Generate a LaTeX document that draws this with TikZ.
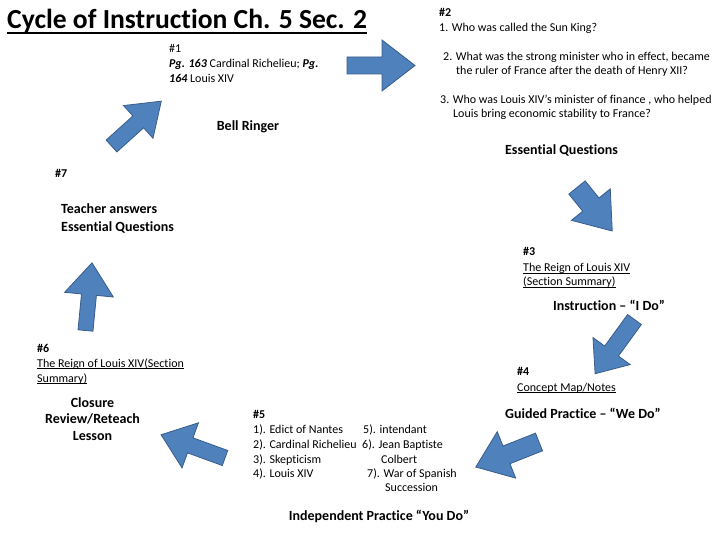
\documentclass[tikz,border=0pt]{standalone}
\usepackage{fontspec}
\setmainfont{Carlito}[Ligatures=CommonOff]
\definecolor{arrowfill}{RGB}{79,129,189}
\definecolor{arrowline}{RGB}{56,93,138}
\newcommand{\ulin}[1]{\underline{\smash{#1}}}
\tikzset{
  txt/.style={anchor=base west, inner sep=0pt, font=\fontsize{12}{14}\selectfont},
  hdr/.style={anchor=base west, inner sep=0pt, font=\fontsize{12}{14}\bfseries\selectfont},
  lbl/.style={anchor=base, inner sep=0pt, font=\fontsize{14}{16}\bfseries\selectfont},
  blockarrow/.style={fill=arrowfill, draw=arrowline, line width=0.8pt, line join=miter},
}
% x, y (tail centre), angle, length, shaft half-width, head half-width, head length
\newcommand{\fatarrow}[7]{%
  \draw[blockarrow, shift={(#1,#2)}, rotate=#3]
    (0,-#5) -- ({#4-#7},-#5) -- ({#4-#7},-#6) -- (#4,0) -- ({#4-#7},#6) -- ({#4-#7},#5) -- (0,#5) -- cycle;}
\begin{document}
\begin{tikzpicture}[x=1pt,y=-1pt]
\useasboundingbox (0,0) rectangle (720,540);

% title
\node[anchor=base west, inner sep=0pt, font=\fontsize{27.6}{34}\bfseries\selectfont] (title) at (7,29) {Cycle of Instruction Ch. 5 Sec. 2};
\draw[line width=1.8pt] ([yshift=-4pt]title.base west) -- ([yshift=-4pt]title.base east);

% #1
\node[txt] (n1) at (169,53) {\#1};
\node[txt] (n1a) at (169,68) {\textbf{\textit{Pg. 163}} Cardinal Richelieu; \textbf{\textit{Pg.}}};
\node[txt] (n1b) at (169,83) {\textbf{\textit{164}} Louis XIV};
\node[lbl] (bell) at (248,131) {Bell Ringer};

% #2
\node[hdr] (n2) at (439,17) {\#2};
\node[txt] (q1) at (439,31.5) {1. Who was called the Sun King?};
\node[txt] (q2a) at (443,61) {2. What was the strong minister who in effect, became};
\node[txt] (q2b) at (456,75) {the ruler of France after the death of Henry XII?};
\node[txt] (q3a) at (440,104) {3. Who was Louis XIV’s minister of finance , who helped};
\node[txt] (q3b) at (453,118) {Louis bring economic stability to France?};
\node[lbl] (eq) at (561.5,155) {Essential Questions};

% #3
\node[hdr] (n3) at (523,255) {\#3};
\node[txt] (n3a) at (523,271.5) {\ulin{The Reign of Louis XIV}};
\node[txt] (n3b) at (523,285.5) {\ulin{(Section Summary)}};
\node[lbl] (ido) at (609,310) {Instruction – “I Do”};

% #4
\node[hdr] (n4) at (517,375) {\#4};
\node[txt] (n4a) at (517,391) {\ulin{Concept Map/Notes}};
\node[lbl] (wedo) at (583,418) {Guided Practice – “We Do”};

% #5
\node[hdr] (n5) at (253,418) {\#5};
\node[txt] (l1) at (253,433) {1). Edict of Nantes};
\node[txt] (l2) at (253,448) {2). Cardinal Richelieu};
\node[txt] (l3) at (253,463) {3). Skepticism};
\node[txt] (l4) at (253,477) {4). Louis XIV};
\node[txt] (r5) at (363,433) {5). intendant};
\node[txt] (r6) at (362,448) {6). Jean Baptiste};
\node[txt] (r6b) at (381,463) {Colbert};
\node[txt] (r7) at (367,477) {7). War of Spanish};
\node[txt] (r7b) at (385,491) {Succession};
\node[lbl] (youdo) at (379,520) {Independent Practice “You Do”};

% #6
\node[hdr] (n6) at (37,352) {\#6};
\node[txt] (n6a) at (37,367) {\ulin{The Reign of Louis XIV(Section}};
\node[txt] (n6b) at (37,382) {\ulin{Summary)}};
\node[lbl] (c1) at (92.5,407) {Closure};
\node[lbl] (c2) at (92.5,423.5) {Review/Reteach};
\node[lbl] (c3) at (92.5,440) {Lesson};

% #7
\node[hdr] (n7) at (55,178) {\#7};
\node[lbl, anchor=base west] (t7a) at (61,214) {Teacher answers};
\node[lbl, anchor=base west] (t7b) at (61,231) {Essential Questions};

% block arrows
\fatarrow{347}{65.5}{0}{68}{8.5}{25.5}{33}
\fatarrow{577}{187.5}{-51}{56}{10.5}{25}{34}
\fatarrow{634.5}{319.5}{-126}{67}{8.5}{23}{28}
\fatarrow{539}{442}{201.6}{68}{9.5}{25}{33}
\fatarrow{225}{458}{160}{68}{8}{24}{31}
\fatarrow{85.5}{330.5}{84.5}{68}{7.5}{24.5}{32}
\fatarrow{111.5}{146}{42}{67}{8}{22}{31}
\end{tikzpicture}
\end{document}
